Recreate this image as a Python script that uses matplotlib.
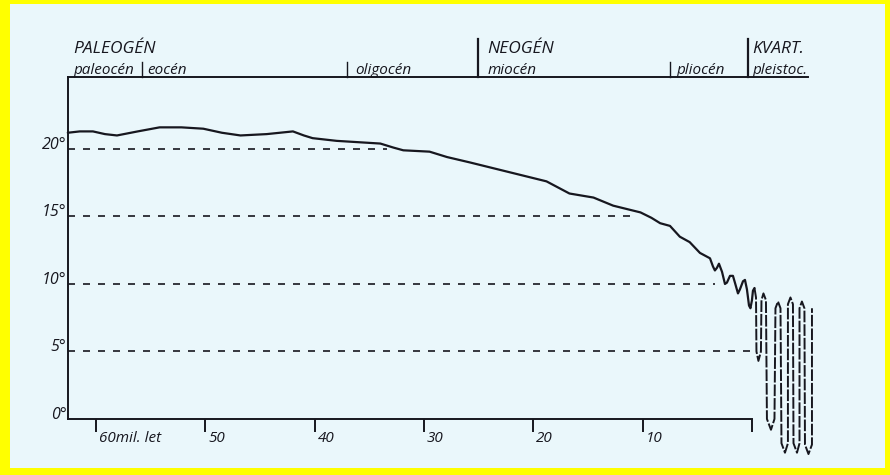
import matplotlib
matplotlib.use("Agg")
import matplotlib.pyplot as plt
from matplotlib.patches import Rectangle
from matplotlib.transforms import blended_transform_factory, ScaledTranslation

# Tertiary part of the curve (age in mil. let, temperature in deg C)
age = [62.6, 61.5, 60.3, 59.2, 58.1, 56.2, 54.2, 52.2, 50.2, 48.5, 46.8, 44.4,
       43.2, 42.0, 41.0, 40.2, 38.0, 36.0, 34.0, 32.8, 31.9, 29.5, 27.9, 25.8,
       23.3, 20.3, 18.8, 16.7, 14.5, 12.7, 11.2, 10.2, 9.2, 8.4, 7.5, 6.6, 5.7,
       4.76, 4.30, 3.84, 3.57, 3.39, 3.20, 3.02, 2.74, 2.47, 2.29, 2.01, 1.74,
       1.56, 1.28, 1.10, 0.82, 0.64, 0.46, 0.27, 0.14, 0.0, -0.09, -0.23]
temp = [21.2, 21.3, 21.3, 21.1, 21.0, 21.3, 21.6, 21.6, 21.5, 21.2, 21.0, 21.1,
        21.2, 21.3, 21.0, 20.8, 20.6, 20.5, 20.4, 20.1, 19.9, 19.8, 19.4, 19.0,
        18.5, 17.9, 17.6, 16.7, 16.4, 15.8, 15.5, 15.3, 14.9, 14.5, 14.3, 13.5,
        13.1, 12.3, 12.1, 11.9, 11.3, 11.0, 11.2, 11.5, 10.9, 10.0, 10.1, 10.6,
        10.6, 10.1, 9.3, 9.6, 10.2, 10.3, 9.6, 8.4, 8.2, 8.8, 9.5, 9.7]

# Quaternary glacial cycles (schematic, drawn past 0)
q_age = [-0.23, -0.37, -0.41, -0.59, -0.82, -0.87, -1.05, -1.28, -1.37, -1.74,
         -2.06, -2.15, -2.38, -2.61, -2.70, -3.02, -3.29, -3.29, -3.52, -3.75,
         -3.80, -4.12, -4.35, -4.35, -4.57, -4.80, -4.85, -5.17, -5.49, -5.49]
q_temp = [9.7, 9.0, 5.0, 4.3, 5.0, 8.8, 9.3, 8.8, 0.0, -0.8,
          0.0, 8.2, 8.7, 8.2, -1.8, -2.5, -1.8, 8.5, 9.0, 8.5,
          -1.8, -2.5, -1.8, 8.2, 8.7, 8.2, -1.9, -2.6, -1.9, 8.2]

ref_levels = [20, 15, 10, 5]
ref_ends = [33.4, 10.9, 3.4, -0.1]

y_ticks = [0, 5, 10, 15, 20]
y_labels = ["0°", "5°", "10°", "15°", "20°"]
x_ticks = [60, 50, 40, 30, 20, 10, 0]
x_labels = ["60mil. let", "50", "40", "30", "20", "10", ""]

eras = ["PALEOGÉN", "NEOGÉN", "KVART."]
era_pos = [62.1, 24.2, 0.0]
epochs = ["paleocén", "eocén", "oligocén", "miocén", "pliocén", "pleistoc."]
epoch_pos = [62.1, 55.35, 36.3, 24.2, 6.95, 0.0]
era_bounds = [25.07, 0.37]
epoch_bounds = [55.8, 37.05, 7.5]

INK = "#17171f"
BG = "#eaf7fb"
plt.rcParams["font.family"] = ["Open Sans", "DejaVu Sans"]

fig = plt.figure(figsize=(8.9, 4.75), dpi=100, facecolor="#ffff00")
fig.patches.append(Rectangle((10 / 890, 7 / 475), 875 / 890, 464 / 475,
                             transform=fig.transFigure, facecolor=BG,
                             edgecolor="none", zorder=-5))

ax = fig.add_axes([68 / 890, 15 / 475, 762 / 890, 383 / 475])
ax.set_facecolor("none")
x_left = 62.58
ax.set_xlim(x_left, -7.14)
ax.set_ylim(-3.04, 25.33)

ax.plot(age, temp, color=INK, lw=1.6, solid_joinstyle="round",
        solid_capstyle="round", clip_on=False)
ax.plot(q_age, q_temp, color=INK, lw=1.4, ls=(0, (6, 1)),
        dash_joinstyle="round", clip_on=False)

for lev, end in zip(ref_levels, ref_ends):
    ax.hlines(lev, x_left, end, color=INK, lw=1.2, linestyles=(0, (4.2, 4.8)))

# frame: left axis, base line, header line
ax.spines["right"].set_visible(False)
ax.spines["left"].set_bounds(0, 25.33)
ax.spines["bottom"].set_position(("data", 0))
ax.spines["bottom"].set_bounds(x_left, 0)
ax.spines["top"].set_bounds(x_left, -5.1)
for s in ["left", "bottom", "top"]:
    ax.spines[s].set_color(INK)
    ax.spines[s].set_linewidth(1.4)

ax.set_yticks(y_ticks, y_labels)
ax.tick_params(axis="y", length=0, pad=1, labelsize=11.5, labelcolor=INK)
for lab in ax.get_yticklabels():
    lab.set_verticalalignment("baseline")
    lab.set_style("italic")

ax.set_xticks(x_ticks, x_labels)
ax.tick_params(axis="x", direction="out", length=9, width=1.4, color=INK,
               pad=0, labelsize=11, labelcolor=INK)
shift = ScaledTranslation(3 / 100, 0, fig.dpi_scale_trans)
for lab in ax.get_xticklabels():
    lab.set_horizontalalignment("left")
    lab.set_style("italic")
    lab.set_transform(lab.get_transform() + shift)

# header with geological periods
tr = blended_transform_factory(ax.transData, ax.transAxes)
for name, x in zip(eras, era_pos):
    ax.text(x, 1.072, name, transform=tr, ha="left", va="center",
            fontsize=12.5, style="italic", color=INK)
for name, x in zip(epochs, epoch_pos):
    ax.text(x, 1.018, name, transform=tr, ha="left", va="center",
            fontsize=11, style="italic", color=INK)
for x in era_bounds:
    ax.plot([x, x], [1.0, 1.1], transform=tr, color=INK, lw=1.6, clip_on=False)
for x in epoch_bounds:
    ax.plot([x, x], [1.0, 1.04], transform=tr, color=INK, lw=1.0, clip_on=False)

fig.savefig("out.png", dpi=100, facecolor=fig.get_facecolor())
